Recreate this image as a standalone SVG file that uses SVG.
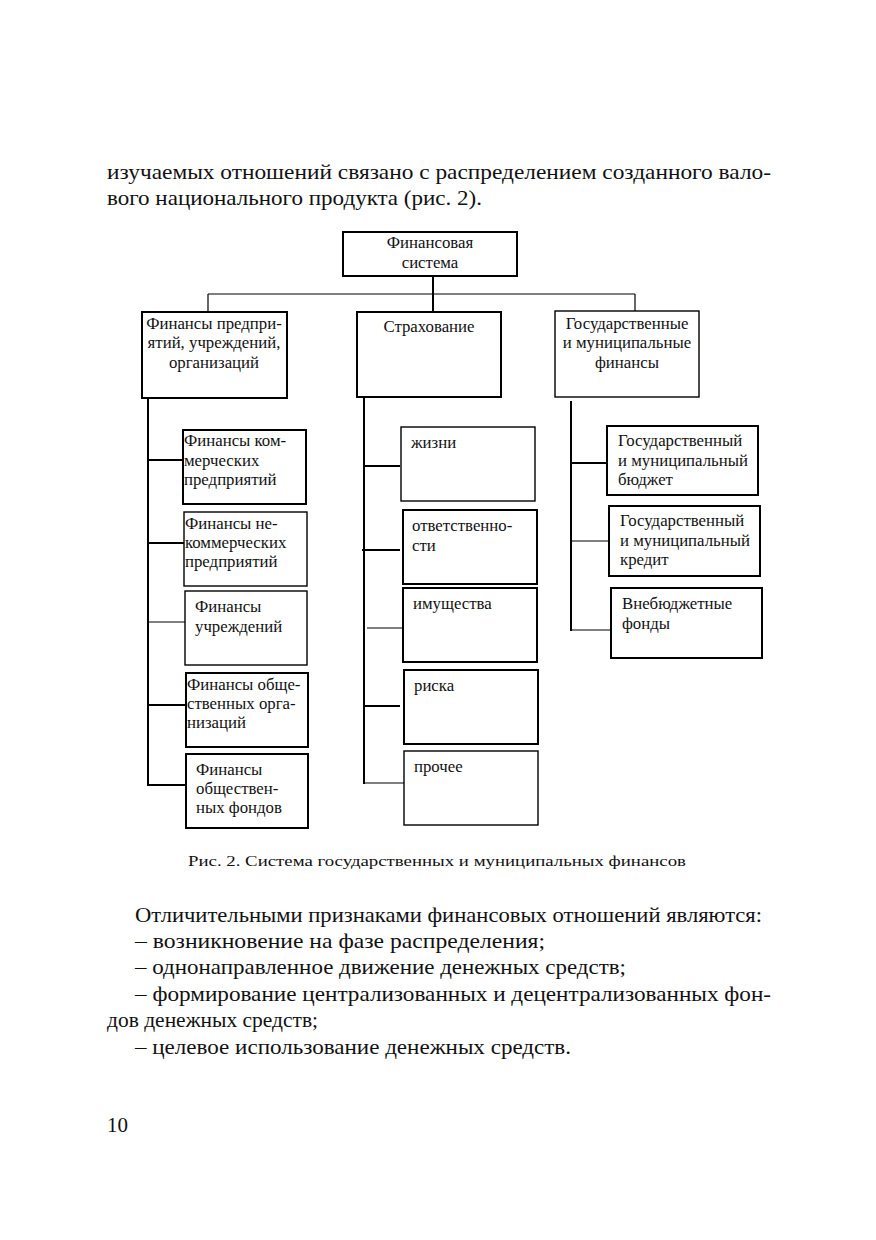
<svg xmlns="http://www.w3.org/2000/svg" width="876" height="1240" viewBox="0 0 876 1240">
<style>
.page{font-family:"Liberation Serif","Times New Roman",serif;font-size:21px;fill:#111}
.cap{font-family:"Liberation Serif","Times New Roman",serif;font-size:15.5px;fill:#111}
.bt{font-family:"Liberation Serif","Times New Roman",serif;font-size:16.8px;fill:#111}
.box{fill:#fff;stroke:#000;stroke-width:2}
.thin{stroke-width:1.4}
.ln{stroke:#000;stroke-width:2;fill:none}
.ln1{stroke:#000;stroke-width:1.2;fill:none}
</style>
<rect width="876" height="1240" fill="#fff"/>
<g id="text-top" class="page">
<text x="107" y="179" textLength="664" lengthAdjust="spacingAndGlyphs">изучаемых отношений связано с распределением созданного вало-</text>
<text x="107" y="205" textLength="375" lengthAdjust="spacingAndGlyphs">вого национального продукта (рис. 2).</text>
</g>
<g id="connectors">
<line class="ln" x1="433" y1="276" x2="433" y2="312"/>
<line class="ln1" x1="208" y1="294" x2="635" y2="294"/>
<line class="ln1" x1="208" y1="294" x2="208" y2="312"/>
<line class="ln1" x1="635" y1="294" x2="635" y2="312"/>
<line class="ln" x1="148" y1="398" x2="148" y2="786"/>
<line class="ln" x1="148" y1="460" x2="183" y2="460"/>
<line class="ln" x1="148" y1="543" x2="184" y2="543"/>
<line class="ln1" x1="148" y1="622" x2="185" y2="622"/>
<line class="ln" x1="148" y1="705" x2="186" y2="705"/>
<line class="ln" x1="148" y1="785" x2="186" y2="785"/>
<line class="ln" x1="364" y1="398" x2="364" y2="784"/>
<line class="ln" x1="364" y1="466" x2="400" y2="466"/>
<line class="ln" x1="362" y1="550" x2="400" y2="550"/>
<line class="ln1" x1="367" y1="628" x2="403" y2="628"/>
<line class="ln" x1="364" y1="706" x2="400" y2="706"/>
<line class="ln1" x1="364" y1="783" x2="404" y2="783"/>
<line class="ln" x1="571" y1="401" x2="571" y2="631"/>
<line class="ln" x1="571" y1="463" x2="607" y2="463"/>
<line class="ln1" x1="571" y1="541" x2="609" y2="541"/>
<line class="ln1" x1="571" y1="630" x2="611" y2="630"/>
</g>
<g id="n-root"><rect class="box" x="343" y="232" width="174" height="44"/>
<text class="bt" x="430" y="248" text-anchor="middle">Финансовая</text>
<text class="bt" x="430" y="268" text-anchor="middle">система</text></g>
<g id="n-enterprises"><rect class="box" x="142" y="312" width="145" height="86"/>
<text class="bt" x="214" y="329" text-anchor="middle">Финансы предпри-</text>
<text class="bt" x="214" y="348" text-anchor="middle">ятий, учреждений,</text>
<text class="bt" x="214" y="368" text-anchor="middle">организаций</text></g>
<g id="n-insurance"><rect class="box" x="357" y="312" width="144" height="85"/>
<text class="bt" x="429" y="332" text-anchor="middle">Страхование</text></g>
<g id="n-state"><rect class="box thin" x="555" y="311" width="144" height="86"/>
<text class="bt" x="627" y="329" text-anchor="middle">Государственные</text>
<text class="bt" x="627" y="348" text-anchor="middle">и муниципальные</text>
<text class="bt" x="627" y="368" text-anchor="middle">финансы</text></g>
<g id="n-commercial"><rect class="box" x="183" y="430" width="123" height="74"/>
<text class="bt" x="184" y="446">Финансы ком-</text>
<text class="bt" x="184" y="466">мерческих</text>
<text class="bt" x="184" y="485">предприятий</text></g>
<g id="n-noncommercial"><rect class="box thin" x="184" y="512" width="123" height="74"/>
<text class="bt" x="185" y="529">Финансы не-</text>
<text class="bt" x="185" y="548">коммерческих</text>
<text class="bt" x="185" y="567">предприятий</text></g>
<g id="n-institutions"><rect class="box thin" x="185" y="591" width="122" height="74"/>
<text class="bt" x="195" y="612">Финансы</text>
<text class="bt" x="195" y="632">учреждений</text></g>
<g id="n-public-org"><rect class="box" x="186" y="673" width="122" height="74"/>
<text class="bt" x="187" y="690">Финансы обще-</text>
<text class="bt" x="187" y="709">ственных орга-</text>
<text class="bt" x="187" y="728">низаций</text></g>
<g id="n-public-funds"><rect class="box" x="186" y="754" width="122" height="74"/>
<text class="bt" x="196" y="775">Финансы</text>
<text class="bt" x="196" y="794">обществен-</text>
<text class="bt" x="196" y="813">ных фондов</text></g>
<g id="n-life"><rect class="box thin" x="401" y="427" width="134" height="74"/>
<text class="bt" x="411" y="448">жизни</text></g>
<g id="n-liability"><rect class="box" x="403" y="510" width="134" height="74"/>
<text class="bt" x="412" y="531">ответственно-</text>
<text class="bt" x="412" y="551">сти</text></g>
<g id="n-property"><rect class="box" x="403" y="588" width="134" height="74"/>
<text class="bt" x="413" y="609">имущества</text></g>
<g id="n-risk"><rect class="box" x="404" y="670" width="134" height="74"/>
<text class="bt" x="414" y="691">риска</text></g>
<g id="n-other"><rect class="box thin" x="404" y="751" width="134" height="74"/>
<text class="bt" x="414" y="772">прочее</text></g>
<g id="n-budget"><rect class="box" x="607" y="426" width="151" height="69"/>
<text class="bt" x="618" y="446">Государственный</text>
<text class="bt" x="618" y="466">и муниципальный</text>
<text class="bt" x="618" y="485">бюджет</text></g>
<g id="n-credit"><rect class="box" x="609" y="506" width="151" height="70"/>
<text class="bt" x="620" y="526">Государственный</text>
<text class="bt" x="620" y="546">и муниципальный</text>
<text class="bt" x="620" y="565">кредит</text></g>
<g id="n-extrabudget"><rect class="box" x="611" y="588" width="151" height="70"/>
<text class="bt" x="622" y="609">Внебюджетные</text>
<text class="bt" x="622" y="629">фонды</text></g>
<g id="caption" class="cap">
<text x="188" y="866" textLength="498" lengthAdjust="spacingAndGlyphs">Рис. 2. Система государственных и муниципальных финансов</text>
</g>
<g id="text-bottom" class="page">
<text x="135" y="922" textLength="627" lengthAdjust="spacingAndGlyphs">Отличительными признаками финансовых отношений являются:</text>
<text x="135" y="948" textLength="410" lengthAdjust="spacingAndGlyphs">– возникновение на фазе распределения;</text>
<text x="135" y="974" textLength="491" lengthAdjust="spacingAndGlyphs">– однонаправленное движение денежных средств;</text>
<text x="135" y="1001" textLength="636" lengthAdjust="spacingAndGlyphs">– формирование централизованных и децентрализованных фон-</text>
<text x="107" y="1027" textLength="211" lengthAdjust="spacingAndGlyphs">дов денежных средств;</text>
<text x="135" y="1054" textLength="436" lengthAdjust="spacingAndGlyphs">– целевое использование денежных средств.</text>
<text x="107" y="1132">10</text>
</g>
</svg>
